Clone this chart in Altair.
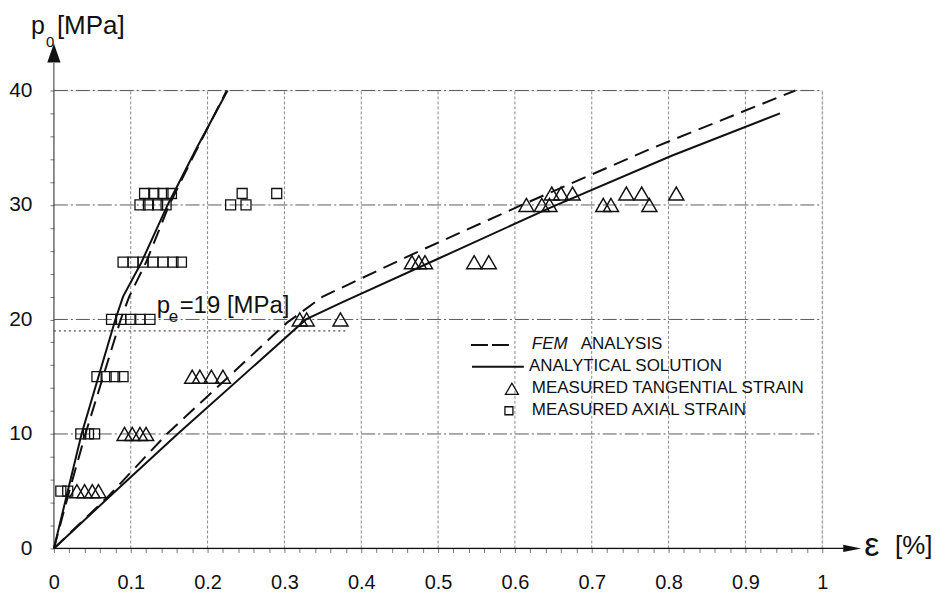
import altair as alt
import pandas as pd

FONT = "Liberation Sans"

# ---------------- data ----------------
X_TICKS = [0, 0.1, 0.2, 0.3, 0.4, 0.5, 0.6, 0.7, 0.8, 0.9, 1.0]
Y_TICKS = [0, 10, 20, 30, 40]
PE = 19            # elastic limit [MPa]
PE_LINE_END = 0.38

# analytical solution curves
AX_AN_X = [0, 0.018, 0.036, 0.058, 0.08, 0.09, 0.114, 0.148, 0.186, 0.226]
AX_AN_Y = [0, 5, 10, 15, 20, 22, 25, 30, 35, 40]
TAN_AN_X = [0, 0.08, 0.161, 0.328, 0.375, 0.5, 0.644, 0.804, 0.945]
TAN_AN_Y = [0, 5, 10, 20, 21.5, 25.3, 29.7, 34.3, 38]

# FEM analysis curves
AX_FEM_X = [0, 0.02, 0.041, 0.064, 0.087, 0.098, 0.12, 0.15, 0.187, 0.225]
AX_FEM_Y = [0, 5, 10, 15, 20, 22, 25, 30, 35, 40]
TAN_FEM_X = [0, 0.07, 0.147, 0.303, 0.35, 0.47, 0.609, 0.78, 0.965]
TAN_FEM_Y = [0, 4.5, 10, 19.7, 22, 25.8, 30, 35, 40]

# measured tangential strain (triangles)
TAN_X = [0.03, 0.04, 0.05, 0.058,
         0.092, 0.102, 0.112, 0.12,
         0.18, 0.19, 0.205, 0.22,
         0.32, 0.329, 0.373,
         0.466, 0.475, 0.483, 0.547, 0.566,
         0.615, 0.635, 0.645, 0.715, 0.725, 0.775,
         0.648, 0.66, 0.675, 0.745, 0.765, 0.81]
TAN_Y = [5, 5, 5, 5,
         10, 10, 10, 10,
         15, 15, 15, 15,
         20, 20, 20,
         25, 25, 25, 25, 25,
         30, 30, 30, 30, 30, 30,
         31, 31, 31, 31, 31, 31]

# measured axial strain (squares)
AX_X = [0.009, 0.018,
        0.035, 0.045, 0.053,
        0.056, 0.068, 0.079, 0.09,
        0.075, 0.087, 0.1, 0.112, 0.125,
        0.09, 0.103, 0.116, 0.129, 0.142, 0.155, 0.166,
        0.112, 0.123, 0.135, 0.146, 0.23, 0.25,
        0.118, 0.13, 0.142, 0.153, 0.245, 0.29]
AX_Y = [5, 5,
        10, 10, 10,
        15, 15, 15, 15,
        20, 20, 20, 20, 20,
        25, 25, 25, 25, 25, 25, 25,
        30, 30, 30, 30, 30, 30,
        31, 31, 31, 31, 31, 31]

# ---------------- tables ----------------
def curve(name, xs, ys):
    return pd.DataFrame({"curve": name, "x": xs, "y": ys})

an_df = pd.concat([curve("axial", AX_AN_X, AX_AN_Y), curve("tangential", TAN_AN_X, TAN_AN_Y)])
fem_df = pd.concat([curve("axial", AX_FEM_X, AX_FEM_Y), curve("tangential", TAN_FEM_X, TAN_FEM_Y)])
tan_df = pd.DataFrame({"x": TAN_X, "y": TAN_Y})
ax_df = pd.DataFrame({"x": AX_X, "y": AX_Y})

W, H = 770, 459
xs = alt.Scale(domain=[0, 1], nice=False, zero=False)
ys = alt.Scale(domain=[0, 40], nice=False, zero=False)

x_minor = [round(i * 0.02, 2) for i in range(51)]
y_minor = list(range(0, 41, 2))

xaxis = alt.Axis(values=x_minor, format="~g",
                 labelExpr="abs(datum.value*10 - round(datum.value*10)) < 0.001 ? datum.label : ''",
                 grid=False, domain=False, tickSize=4, tickColor="#555", tickWidth=0.8,
                 labelFont=FONT, labelFontSize=20, labelColor="#111", labelPadding=20,
                 labelFlush=False, labelOverlap=False, title=None)
yaxis = alt.Axis(values=y_minor,
                 labelExpr="datum.value % 10 == 0 ? datum.label : ''",
                 grid=False, domain=False, tickSize=4, tickColor="#555", tickWidth=0.8,
                 labelFont=FONT, labelFontSize=21, labelColor="#111", labelPadding=18,
                 labelFlush=False, labelOverlap=False, title=None)

X = lambda f: alt.X(f, type="quantitative", scale=xs, axis=xaxis)
Y = lambda f: alt.Y(f, type="quantitative", scale=ys, axis=yaxis)

# grid lines
vgrid_df = pd.DataFrame({"x": X_TICKS[1:], "y0": 0, "y1": Y_TICKS[-1]})
vgrid = alt.Chart(vgrid_df).mark_rule(
    color="#8a8a8a", strokeWidth=1, strokeDash=[3, 2]
).encode(x=X("x:Q"), y=Y("y0:Q"), y2="y1:Q")

hgrid_df = pd.DataFrame({"y": Y_TICKS[1:], "x0": 0, "x1": X_TICKS[-1]})
hgrid = alt.Chart(hgrid_df).mark_rule(
    color="#5a5a5a", strokeWidth=1, strokeDash=[14, 3, 2, 3]
).encode(y=Y("y:Q"), x=X("x0:Q"), x2="x1:Q")

pe_df = pd.DataFrame({"y": [PE], "x0": [0], "x1": [PE_LINE_END]})
pe_line = alt.Chart(pe_df).mark_rule(
    color="#222", strokeWidth=1, strokeDash=[2, 3]
).encode(y=Y("y:Q"), x=X("x0:Q"), x2="x1:Q")

# axis lines with arrows
xline_df = pd.DataFrame({"x0": [0], "x1": [1.03], "y": [0]})
x_axis_line = alt.Chart(xline_df).mark_rule(color="#111", strokeWidth=1.3).encode(
    x=X("x0:Q"), x2="x1:Q", y=Y("y:Q"))
yline_df = pd.DataFrame({"y0": [0], "y1": [42.4], "x": [0]})
y_axis_line = alt.Chart(yline_df).mark_rule(color="#333", strokeWidth=1).encode(
    y=Y("y0:Q"), y2="y1:Q", x=X("x:Q"))
x_arrow = alt.Chart(pd.DataFrame({"x": [1.039], "y": [0]})).mark_point(
    shape="M-1,-0.4L1,0L-1,0.4Z", size=324, filled=True, color="#111", opacity=1
).encode(x=X("x:Q"), y=Y("y:Q"))
y_arrow = alt.Chart(pd.DataFrame({"x": [0], "y": [43.27]})).mark_point(
    shape="M0,-1L0.7,1L-0.7,1Z", size=361, filled=True, color="#111", opacity=1
).encode(x=X("x:Q"), y=Y("y:Q"))

# curves
an_lines = alt.Chart(an_df).mark_line(color="#111", strokeWidth=2).encode(
    x=X("x:Q"), y=Y("y:Q"), detail="curve:N")
fem_lines = alt.Chart(fem_df).mark_line(color="#111", strokeWidth=2, strokeDash=[15, 8]).encode(
    x=X("x:Q"), y=Y("y:Q"), detail="curve:N")

# measured points
tan_pts = alt.Chart(tan_df).mark_point(shape="triangle-up", size=225, filled=False,
                                      color="#111", strokeWidth=1.5, opacity=1).encode(
    x=X("x:Q"), y=Y("y:Q"))
ax_pts = alt.Chart(ax_df).mark_point(shape="square", size=100, filled=False,
                                     color="#111", strokeWidth=1.3, opacity=1).encode(
    x=X("x:Q"), y=Y("y:Q"))

one = pd.DataFrame({"a": [0]})

def txt(s, x, y, size, style="normal", baseline="middle"):
    return alt.Chart(one).mark_text(text=s, font=FONT, fontSize=size, fontStyle=style,
                                    align="left", baseline=baseline, color="#111").encode(
        x=alt.value(x), y=alt.value(y))

# legend
leg = [
    alt.Chart(one).mark_rule(color="#111", strokeWidth=2, strokeDash=[17, 4]).encode(
        x=alt.value(418), x2=alt.value(456), y=alt.value(255)),
    txt("FEM", 479, 254, 17, "italic"),
    txt("ANALYSIS", 528, 254, 17),
    alt.Chart(one).mark_rule(color="#111", strokeWidth=2).encode(
        x=alt.value(419), x2=alt.value(471), y=alt.value(277)),
    txt("ANALYTICAL SOLUTION", 476, 276, 17),
    alt.Chart(one).mark_point(shape="triangle-up", size=169, filled=False, color="#111",
                              strokeWidth=1.3, opacity=1).encode(x=alt.value(459), y=alt.value(299)),
    txt("MEASURED TANGENTIAL STRAIN", 479, 298, 17),
    alt.Chart(one).mark_point(shape="square", size=64, filled=False, color="#111",
                              strokeWidth=1.3, opacity=1).encode(x=alt.value(456), y=alt.value(321)),
    txt("MEASURED AXIAL STRAIN", 479, 320, 17),
]

# annotations and axis titles
ann = [
    txt("p", 103, 223, 24, baseline="alphabetic"),
    txt("e", 115, 232, 17, baseline="alphabetic"),
    txt("=19 [MPa]", 126, 223, 24, baseline="alphabetic"),
    txt("p", -23, -57, 25, baseline="alphabetic"),
    txt("0", -8, -44, 15, baseline="alphabetic"),
    txt("[MPa]", 3, -57, 26, baseline="alphabetic"),
    txt("ε", 812, 467, 34, baseline="alphabetic"),
    txt("[%]", 843, 465, 26, baseline="alphabetic"),
]

chart = alt.layer(
    vgrid, hgrid, pe_line, x_axis_line, y_axis_line, x_arrow, y_arrow,
    fem_lines, an_lines, tan_pts, ax_pts, *leg, *ann
).properties(
    width=W, height=H,
    autosize=alt.AutoSizeParams(type="none"),
    padding={"left": 46, "top": 82, "right": 115, "bottom": 45},
).configure_view(stroke=None).configure(background="white")

chart.save("out.html", embed_options={"renderer": "svg", "actions": False})
